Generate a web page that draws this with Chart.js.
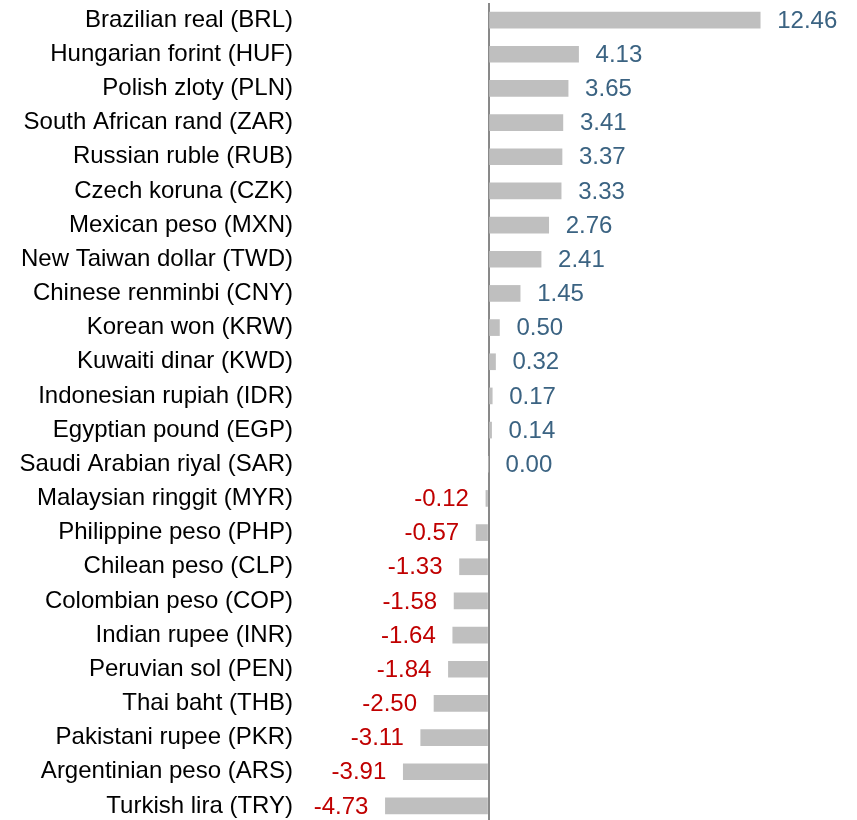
<!DOCTYPE html>
<html>
<head>
<meta charset="utf-8">
<script src="https://cdn.jsdelivr.net/npm/chart.js@4"></script>
<style>
  html, body { margin: 0; padding: 0; background: #fff; overflow: hidden; }
  #wrap { width: 857px; height: 820px; overflow: hidden; }
</style>
</head>
<body>
<div id="wrap"><canvas id="fxChart" width="857" height="823"></canvas></div>
<script>
const currencies = [
    "Brazilian real (BRL)", "Hungarian forint (HUF)", "Polish zloty (PLN)",
    "South African rand (ZAR)", "Russian ruble (RUB)", "Czech koruna (CZK)",
    "Mexican peso (MXN)", "New Taiwan dollar (TWD)", "Chinese renminbi (CNY)",
    "Korean won (KRW)", "Kuwaiti dinar (KWD)", "Indonesian rupiah (IDR)",
    "Egyptian pound (EGP)", "Saudi Arabian riyal (SAR)", "Malaysian ringgit (MYR)",
    "Philippine peso (PHP)", "Chilean peso (CLP)", "Colombian peso (COP)",
    "Indian rupee (INR)", "Peruvian sol (PEN)", "Thai baht (THB)",
    "Pakistani rupee (PKR)", "Argentinian peso (ARS)", "Turkish lira (TRY)"
];
const changes = [
    12.46, 4.13, 3.65, 3.41, 3.37, 3.33, 2.76, 2.41, 1.45, 0.50, 0.32, 0.17,
    0.14, 0.00, -0.12, -0.57, -1.33, -1.58, -1.64, -1.84, -2.50, -3.11, -3.91, -4.73
];

const FONT = "'Liberation Sans', Arial, sans-serif";
const FONT_SIZE = 24;

// value labels next to each bar
const valueLabels = {
    id: 'valueLabels',
    afterDatasetsDraw(chart) {
        const ctx = chart.ctx;
        const meta = chart.getDatasetMeta(0);
        ctx.save();
        ctx.font = FONT_SIZE + 'px ' + FONT;
        ctx.textBaseline = 'middle';
        meta.data.forEach((bar, i) => {
            const v = changes[i];
            const txt = v.toFixed(2);
            if (v < 0) {
                ctx.fillStyle = '#c00000';
                ctx.textAlign = 'right';
                ctx.fillText(txt, bar.x - 17, bar.y + 1);
            } else {
                ctx.fillStyle = '#3b6382';
                ctx.textAlign = 'left';
                ctx.fillText(txt, bar.x + 17, bar.y + 1);
            }
        });
        ctx.restore();
    }
};

Chart.defaults.font.family = FONT;

new Chart(document.getElementById('fxChart').getContext('2d'), {
    type: 'bar',
    data: {
        labels: currencies,
        datasets: [{
            data: changes,
            backgroundColor: '#bfbfbf',
            borderWidth: 0,
            barThickness: 16
        }]
    },
    options: {
        indexAxis: 'y',
        responsive: false,
        animation: false,
        layout: { padding: { top: 3, bottom: 0, left: 0, right: 0 } },
        plugins: {
            legend: { display: false },
            tooltip: { enabled: false }
        },
        scales: {
            x: {
                min: -8.647,
                max: 16.9,
                afterFit(scale) {
                    scale.height = 0;
                    scale.paddingLeft = 0;
                    scale.paddingRight = 0;
                },
                ticks: { display: false, stepSize: 5 },
                border: { display: false },
                grid: {
                    drawTicks: false,
                    lineWidth: 2,
                    color: c => c.tick && c.tick.value === 0 ? '#898989' : 'rgba(0,0,0,0)'
                }
            },
            y: {
                afterFit(scale) {
                    scale.width = 300;
                    scale.paddingTop = 0;
                    scale.paddingBottom = 0;
                },
                border: { display: false },
                grid: { display: false, drawTicks: false },
                ticks: {
                    padding: 7,
                    color: '#000',
                    font: { size: FONT_SIZE, family: FONT },
                    autoSkip: false
                }
            }
        }
    },
    plugins: [valueLabels]
});
</script>
</body>
</html>
